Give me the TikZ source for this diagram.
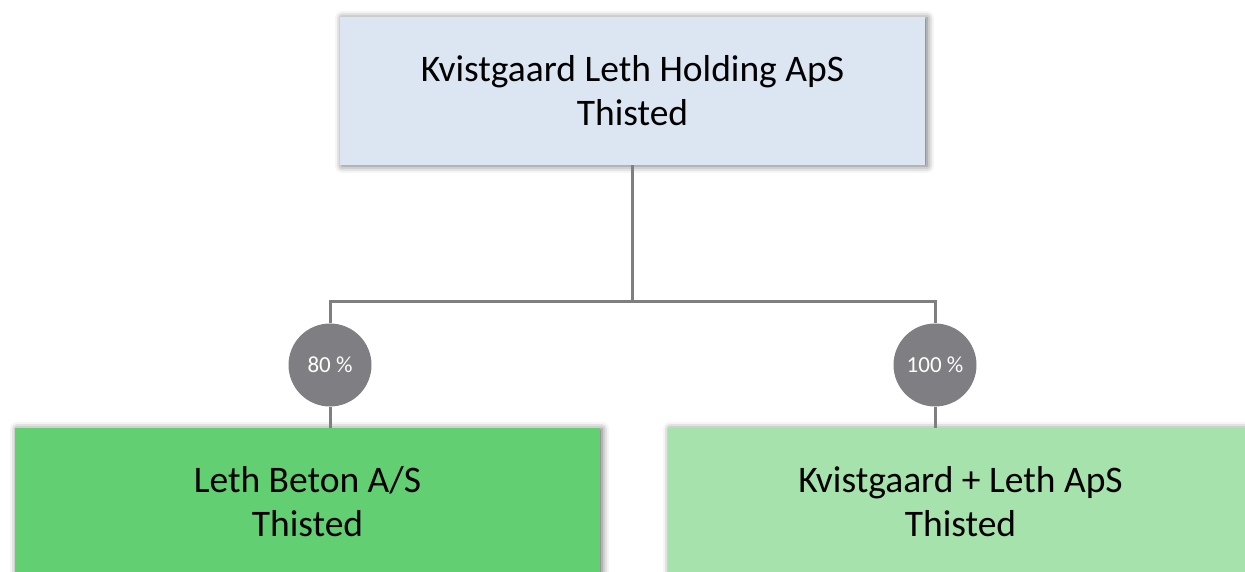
\documentclass[tikz,border=0pt]{standalone}
\usepackage{fontspec}
\setmainfont{Carlito}
\usepackage{xcolor}
\usetikzlibrary{positioning,shadows.blur}
\definecolor{holdblue}{HTML}{DCE6F2}
\definecolor{betongreen}{HTML}{62CF72}
\definecolor{apsgreen}{HTML}{A6E3AC}
\definecolor{sharegray}{HTML}{7F7E83}
\definecolor{linegray}{HTML}{7F7F7F}
\tikzset{
 company/.style={rectangle,minimum width=585pt,minimum height=148pt,
   inner sep=0pt,align=center,font=\fontsize{37.5}{44}\selectfont,
   blur shadow={shadow xshift=2pt,shadow yshift=-1pt,shadow blur radius=7pt,shadow opacity=60}},
 holding/.style={company,fill=holdblue},
 subsid/.style={company,fill=betongreen},
 subsid light/.style={company,fill=apsgreen},
 share/.style={circle,fill=sharegray,minimum size=83pt,inner sep=0pt,
   text=white,font=\fontsize{23}{26}\selectfont},
 tie/.style={draw=linegray,line width=3pt}}
\begin{document}
\begin{tikzpicture}[x=1pt,y=1pt]
  \useasboundingbox (0,0) rectangle (1245,571);
  \clip (0,0) rectangle (1245,571);
  \node[holding] (top) at (632.5,480) {Kvistgaard Leth Holding ApS\\Thisted};
  \node[share] (p80) at (330,206) {80 \%};
  \node[share] (p100) at (935,206) {100 \%};
  \node[subsid] (beton) at (307.5,69) {Leth Beton A/S\\Thisted};
  \node[subsid light] (aps) at (960.5,69) {Kvistgaard + Leth ApS\\Thisted};
  \coordinate (split) at (632.5,269);
  \draw[tie] (top.south) -- (split);
  \draw[tie] (p80.north) |- (split) -| (p100.north);
  \draw[tie] (p80.south) -- (p80.south |- beton.north);
  \draw[tie] (p100.south) -- (p100.south |- aps.north);
\end{tikzpicture}
\end{document}
